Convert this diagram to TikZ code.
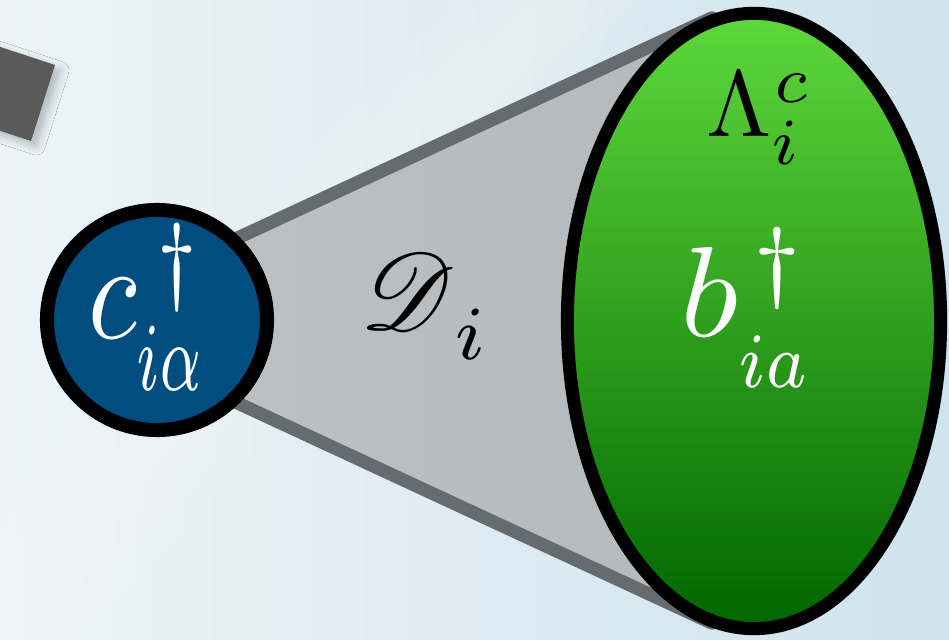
\documentclass[tikz,border=0pt]{standalone}
\usepackage{amsmath}
\usepackage{mathrsfs}
\usetikzlibrary{shapes.geometric,shadows.blur}
\definecolor{bgL}{RGB}{236,244,247}
\definecolor{bgR}{RGB}{207,227,237}
\definecolor{sqgray}{RGB}{90,90,90}
\definecolor{coneL}{RGB}{190,193,196}
\definecolor{coneR}{RGB}{181,185,188}
\definecolor{conedark}{RGB}{101,107,110}
\definecolor{cblue}{RGB}{0,77,127}
\definecolor{gA}{RGB}{94,216,60}
\definecolor{gB}{RGB}{50,166,31}
\definecolor{gC}{RGB}{0,102,0}
% base, sup kern, sup raise, sup, sub drop, sub
\newcommand{\opsym}[6]{$#1$\rlap{\kern#2\raisebox{#3}{$\scriptstyle #4$}}\raisebox{-#5}{#6}}
\tikzset{
  lbl/.style={anchor=base west, inner sep=0pt, outer sep=0pt, transform shape, font=\fontsize{10}{12}\selectfont},
  sitecircle/.style={circle, draw=black, line width=3.98pt, fill=cblue, minimum size=2.2cm, inner sep=0pt},
  bathellipse/.style={ellipse, draw=black, line width=3.7pt, top color=gA, middle color=gB, bottom color=gC, minimum width=3.73cm, minimum height=6.15cm, inner sep=0pt},
  conestyle/.style={draw=conedark, line width=3.7pt, line join=round, left color=coneL, right color=coneR}
}
\begin{document}
\begin{tikzpicture}[x=0.01cm,y=-0.01cm]
\useasboundingbox (0,0) rectangle (949,640);
\begin{scope}
\clip (0,0) rectangle (949,640);
\shade[left color=bgL,right color=bgR] (0,0) rectangle (949,640);
\foreach \w in {110,80,55,30}
  \fill[white,opacity=0.07] (560-\w,0) -- (560+\w,0) -- (-27+\w,640) -- (-27-\w,640) -- cycle;
\fill[sqgray, blur shadow={shadow xshift=1.5pt, shadow yshift=-1.5pt, shadow blur radius=2.5pt, shadow opacity=25}]
  (-21,40) -- (55,65) -- (31,141) -- (-45,116) -- cycle;
\end{scope}
% cone
\coordinate (t1) at (200,255.4);
\coordinate (t2) at (712,17.8);
\coordinate (b2) at (712,623.2);
\coordinate (b1) at (200,385.6);
\path[conestyle] (t1) -- (t2) -- (b2) -- (b1) -- cycle;
% site and bath
\node[sitecircle] (cnode) at (157,320) {};
\node[bathellipse] (bnode) at (754,321) {};
% labels
\node[lbl, text=white, xscale=3.2, yscale=3.95] (clab) at (88,338)
  {\opsym{c}{1.78pt}{3.35pt}{\dagger}{3.75pt}{\scalebox{0.73}[1]{$\scriptstyle i\alpha$}}};
\node[lbl, scale=3.1] (dlab) at (360,330)
  {$\mathscr{D}$\raisebox{-2.75pt}{$\scriptstyle i$}};
\node[lbl, scale=2.67] (llab) at (706,137)
  {\opsym{\Lambda}{0.3pt}{3.72pt}{c}{2.97pt}{$\scriptstyle i$}};
\node[lbl, text=white, xscale=3.85, yscale=3.65] (blab) at (680,337)
  {\opsym{b}{1.04pt}{3.6pt}{\dagger}{3.97pt}{\scalebox{0.72}[0.87]{$\scriptstyle ia$}}};
\end{tikzpicture}
\end{document}
